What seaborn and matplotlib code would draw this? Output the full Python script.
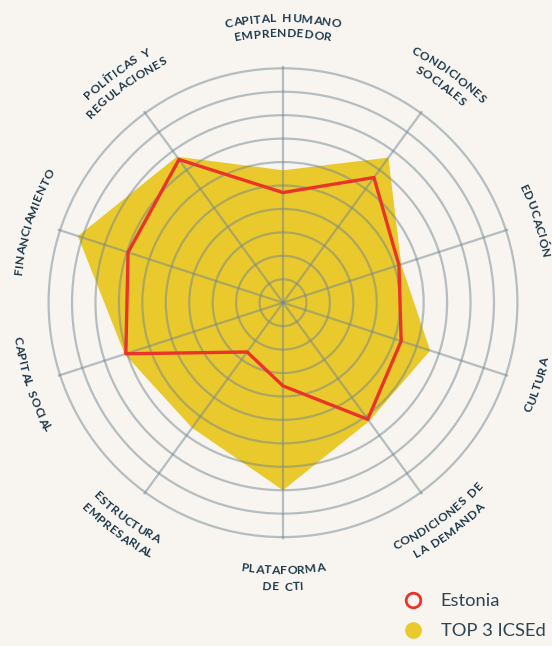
import numpy as np
import matplotlib.pyplot as plt
import seaborn as sns
from matplotlib.lines import Line2D
from matplotlib.font_manager import FontProperties

# data (ring units, 0-10)
dimensions = ["CAPITAL HUMANO\nEMPRENDEDOR", "CONDICIONES\nSOCIALES", "EDUCACIÓN",
              "CULTURA", "CONDICIONES DE\nLA DEMANDA", "PLATAFORMA\nDE CTI",
              "ESTRUCTURA\nEMPRESARIAL", "CAPITAL SOCIAL", "FINANCIAMIENTO",
              "POLÍTICAS Y\nREGULACIONES"]
estonia = [4.7, 6.6, 5.2, 5.3, 6.15, 3.55, 2.6, 7.05, 6.95, 7.55]
top3 = [5.65, 7.65, 5.3, 6.6, 6.25, 8.0, 6.6, 7.1, 9.2, 7.7]
series_names = ["Estonia", "TOP 3 ICSEd"]

BG = "#f8f4f0"
YELLOW = "#e9c92c"
RED = "#eb3328"
GRID = "#72878f"
NAVY = "#1c3a4b"

sns.set_theme(style="white", rc={"figure.facecolor": BG, "axes.facecolor": BG})
plt.rcParams["font.family"] = ["Lato", "DejaVu Sans"]

W, H = 552, 646
fig = plt.figure(figsize=(W / 100, H / 100), dpi=100)

cx, cy = 283, H - 302.7      # chart centre in pixels (from bottom)
rmax = 10.1
rad_px = 234.4 / 10 * rmax
ax = fig.add_axes([(cx - rad_px) / W, (cy - rad_px) / H, 2 * rad_px / W, 2 * rad_px / H],
                  projection="polar")
ax.set_facecolor(BG)
ax.set_theta_zero_location("N")
ax.set_theta_direction(-1)

n = len(dimensions)
theta = np.linspace(0, 2 * np.pi, n, endpoint=False)
theta_c = np.append(theta, 2 * np.pi)
est_c = np.append(estonia, estonia[0])
top_c = np.append(top3, top3[0])

ax.fill(theta_c, top_c, color=YELLOW, lw=0, zorder=1)
sns.lineplot(x=theta_c, y=est_c, sort=False, estimator=None, ax=ax, color=RED,
             lw=2.4, zorder=3, legend=False)

ax.set_ylim(0, rmax)
ax.set_yticks(np.arange(1, 11))
ax.set_yticklabels([])
ax.set_xticks(theta)
ax.set_xticklabels([])
ax.set_xlabel("")
ax.set_ylabel("")
ax.set_axisbelow(False)
ax.grid(True, color=GRID, alpha=0.5, lw=1.6)
ax.spines["polar"].set_visible(False)

# curved labels, one character at a time along the arc
fp = FontProperties(family="Lato", weight="bold", size=8.7)
renderer = fig.canvas.get_renderer()
track = 0.3
word_gap = 2.2
cap = 8.8


def ink_width(s):
    if not s.strip():
        return 0.0
    return renderer.get_text_width_height_descent(s, fp, ismath=False)[0]


def arc_line(text, ang, r, top):
    # ink centre of every char, measured from prefixes so kerning/bearings stay right
    centres = []
    for i, c in enumerate(text):
        if c == " ":
            continue
        extra = track * i + word_gap * text[:i].count(" ")
        right = ink_width(text[:i + 1])
        centres.append((c, right - ink_width(c) / 2 + extra))
    total = ink_width(text) + track * (len(text) - 1) + word_gap * text.count(" ")
    rb = r - cap / 2 if top else r + cap / 2
    for c, pos in centres:
        mid = pos - total / 2
        if top:
            th = ang + mid / rb
            rot = -np.degrees(th)
        else:
            th = ang - mid / rb
            rot = 180 - np.degrees(th)
        x = cx + rb * np.sin(th)
        y = cy + rb * np.cos(th)
        fig.text(x / W, y / H, c, rotation=rot, rotation_mode="anchor", ha="center",
                 va="baseline", fontproperties=fp, color=NAVY)


for label, ang in zip(dimensions, theta):
    deg = np.degrees(ang)
    top = deg < 90 or deg > 270
    lines = label.split("\n")
    if len(lines) == 1:
        arc_line(lines[0], ang, 267, top)
    elif top:
        arc_line(lines[0], ang, 285, top)
        arc_line(lines[1], ang, 270, top)
    else:
        arc_line(lines[0], ang, 267, top)
        arc_line(lines[1], ang, 283.5, top)

handles = [
    Line2D([], [], marker="o", ls="none", markersize=10.5, markerfacecolor="none",
           markeredgecolor=RED, markeredgewidth=2.0),
    Line2D([], [], marker="o", ls="none", markersize=11, markerfacecolor=YELLOW,
           markeredgecolor=YELLOW),
]
fig.legend(handles, series_names, loc="upper left", bbox_to_anchor=(404 / W, 1 - 593 / H),
           frameon=False, fontsize=13.2, handlelength=0.95, handletextpad=1.05,
           labelspacing=0.78, borderpad=0, borderaxespad=0, labelcolor="#2c4553")

fig.savefig("out.png", dpi=100, facecolor=BG)
